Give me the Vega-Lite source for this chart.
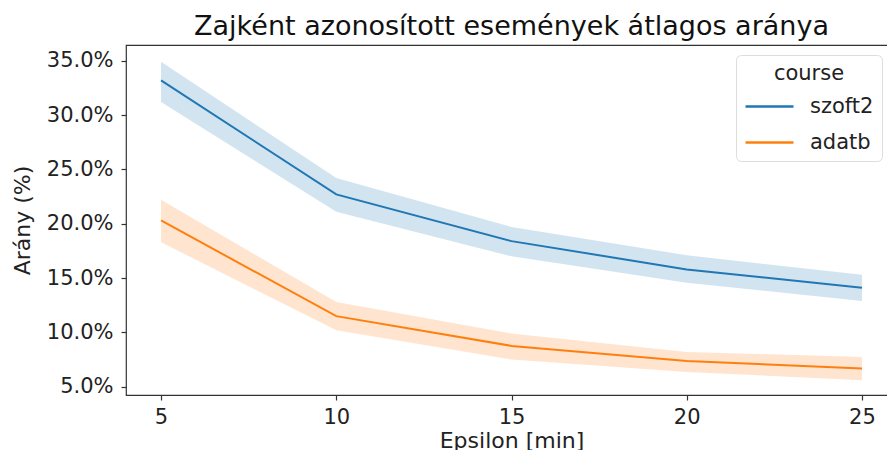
{
  "$schema": "https://vega.github.io/schema/vega-lite/v6.json",
  "autosize": "none",
  "width": 771,
  "height": 350,
  "padding": {"left": 126, "top": 45, "right": 0, "bottom": 55},
  "background": "white",
  "config": {
    "font": "DejaVu Sans",
    "view": {"stroke": "#333333", "strokeWidth": 1.2},
    "axis": {"grid": false, "domain": false, "tickColor": "#333333", "tickSize": 5, "tickWidth": 1.2, "labelFontSize": 21, "labelColor": "#222222", "titleFontSize": 22, "titleFontWeight": "normal", "titleColor": "#222222", "labelPadding": 6}
  },
  "title": {"text": "Zajként azonosított események átlagos aránya", "fontSize": 27, "fontWeight": "normal", "color": "#111111", "offset": 4, "anchor": "middle"},
  "data": {"values": [
    {"course": "szoft2", "epsilon": 5, "mean": 0.332, "lo": 0.312, "hi": 0.349},
    {"course": "szoft2", "epsilon": 10, "mean": 0.227, "lo": 0.211, "hi": 0.242},
    {"course": "szoft2", "epsilon": 15, "mean": 0.184, "lo": 0.170, "hi": 0.197},
    {"course": "szoft2", "epsilon": 20, "mean": 0.158, "lo": 0.1456, "hi": 0.171},
    {"course": "szoft2", "epsilon": 25, "mean": 0.141, "lo": 0.129, "hi": 0.153},
    {"course": "adatb", "epsilon": 5, "mean": 0.203, "lo": 0.183, "hi": 0.222},
    {"course": "adatb", "epsilon": 10, "mean": 0.115, "lo": 0.102, "hi": 0.128},
    {"course": "adatb", "epsilon": 15, "mean": 0.0876, "lo": 0.075, "hi": 0.099},
    {"course": "adatb", "epsilon": 20, "mean": 0.0738, "lo": 0.0636, "hi": 0.082},
    {"course": "adatb", "epsilon": 25, "mean": 0.0668, "lo": 0.056, "hi": 0.0774}
  ]},
  "encoding": {
    "x": {"field": "epsilon", "type": "quantitative", "scale": {"domain": [4, 26], "nice": false, "zero": false}, "axis": {"values": [5, 10, 15, 20, 25], "title": "Epsilon [min]", "titlePadding": 3}},
    "color": {"field": "course", "type": "nominal", "scale": {"domain": ["szoft2", "adatb"], "range": ["#1f77b4", "#ff7f0e"]},
      "legend": {"title": "course", "orient": "none", "legendX": 610, "legendY": 10, "symbolType": "stroke", "symbolSize": 2300, "symbolStrokeWidth": 2.5, "symbolOpacity": 1, "labelFontSize": 21, "titleFontSize": 21, "titleFontWeight": "normal", "titleAnchor": "middle", "titleAlign": "center", "titleColor": "#222222", "labelColor": "#222222", "strokeColor": "#dddddd", "cornerRadius": 5, "padding": 8, "rowPadding": -13, "labelOffset": 15, "titlePadding": -3, "fillColor": "white"}}
  },
  "layer": [
    {"mark": {"type": "area", "fillOpacity": 0.2}, "encoding": {
      "y": {"field": "lo", "type": "quantitative"},
      "y2": {"field": "hi"}
    }},
    {"mark": {"type": "line", "strokeWidth": 2}, "encoding": {
      "y": {"field": "mean", "type": "quantitative", "scale": {"domain": [0.0424, 0.3645], "nice": false, "zero": false}, "axis": {"values": [0.05, 0.10, 0.15, 0.20, 0.25, 0.30, 0.35], "format": ".1%", "title": "Arány (%)", "titlePadding": 12, "labelPadding": 8}}
    }}
  ]
}
